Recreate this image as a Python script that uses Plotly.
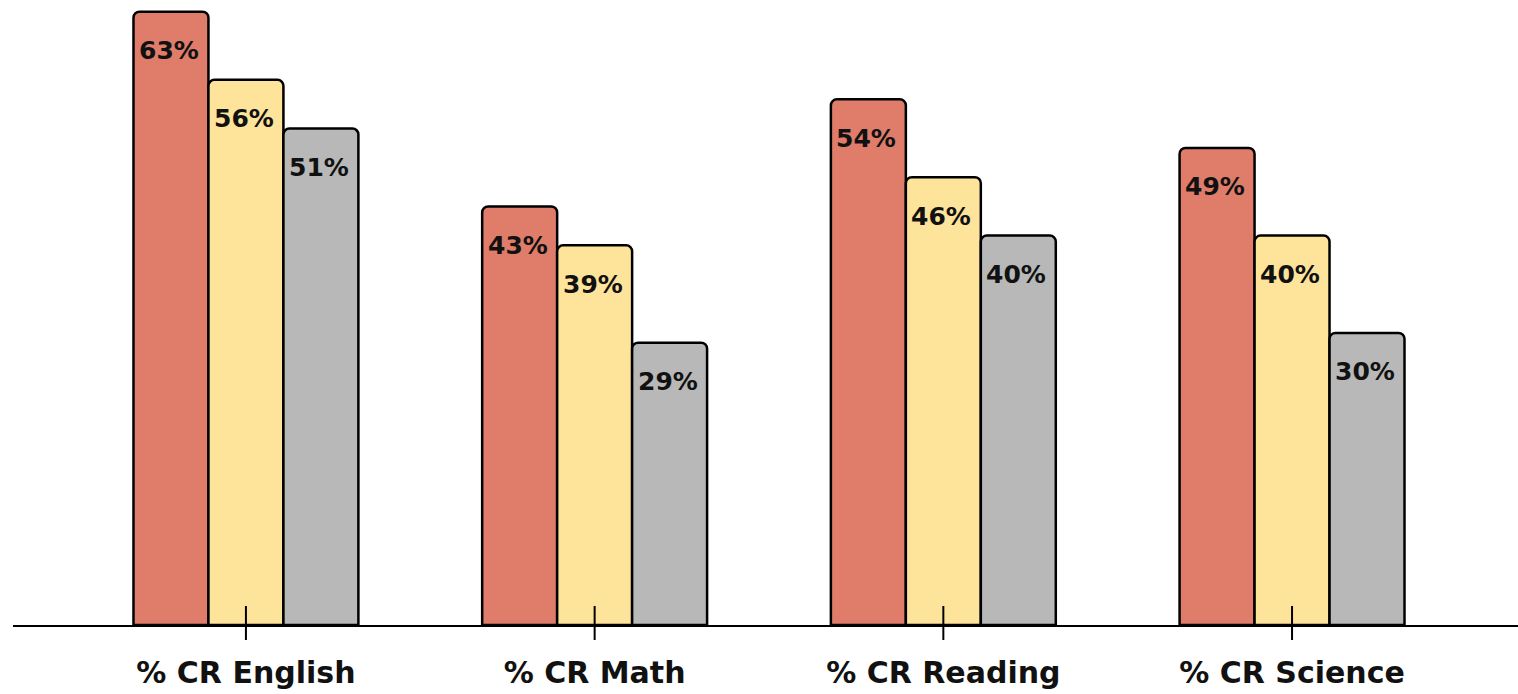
import plotly.graph_objects as go

categories = ["% CR English", "% CR Math", "% CR Reading", "% CR Science"]
series_names = ["Series A", "Series B", "Series C"]
values_a = [63, 43, 54, 49]
values_b = [56, 39, 46, 40]
values_c = [51, 29, 40, 30]
series_values = [values_a, values_b, values_c]
colors = ["#DF7D6A", "#FEE39B", "#B8B8B8"]

BARGAP = 0.355
W, H = 1518, 694

fig = go.Figure()
for name, vals, col in zip(series_names, series_values, colors):
    fig.add_trace(go.Bar(
        x=categories, y=vals, name=name,
        marker=dict(color=col, line=dict(color="#000000", width=2.5), cornerradius=6),
        showlegend=False, hoverinfo="x+y",
    ))

n = len(series_values)
bw = (1 - BARGAP) / n
annotations = []
for j, vals in enumerate(series_values):
    for i, v in enumerate(vals):
        annotations.append(dict(
            x=i + (j - (n - 1) / 2) * bw, xref="x", y=v, yref="y",
            text=f"{v}%", showarrow=False, xanchor="center", yanchor="middle",
            yshift=-39, xshift=-2,
            font=dict(family="DejaVu Sans", size=25, color="#111111", weight="bold"),
        ))

shapes = []
for c in categories:
    shapes.append(dict(
        type="line", xref="x", yref="paper", x0=c, x1=c,
        ysizemode="pixel", yanchor=0, y0=-15, y1=19,
        line=dict(color="#000000", width=2), layer="above",
    ))

fig.update_layout(
    width=W, height=H,
    margin=dict(l=13, r=0, t=0, b=69, autoexpand=False),
    paper_bgcolor="white", plot_bgcolor="white",
    barmode="group", bargap=BARGAP, bargroupgap=0,
    annotations=annotations, shapes=shapes,
    xaxis=dict(
        type="category", categoryarray=categories, range=[-0.668, 3.648],
        showline=True, linecolor="#000000", linewidth=2, ticks="",
        showgrid=False, zeroline=False, layer="above traces",
        tickfont=dict(family="DejaVu Sans", size=30, color="#111111", weight="bold"),
        ticklabelstandoff=20, automargin=False,
    ),
    yaxis=dict(range=[0, 64.2], visible=False, showgrid=False, zeroline=False),
)

fig.write_html(
    "out.html",
    config={"displayModeBar": False},
    post_script="document.body.style.margin='0';document.body.style.overflow='hidden';",
)
